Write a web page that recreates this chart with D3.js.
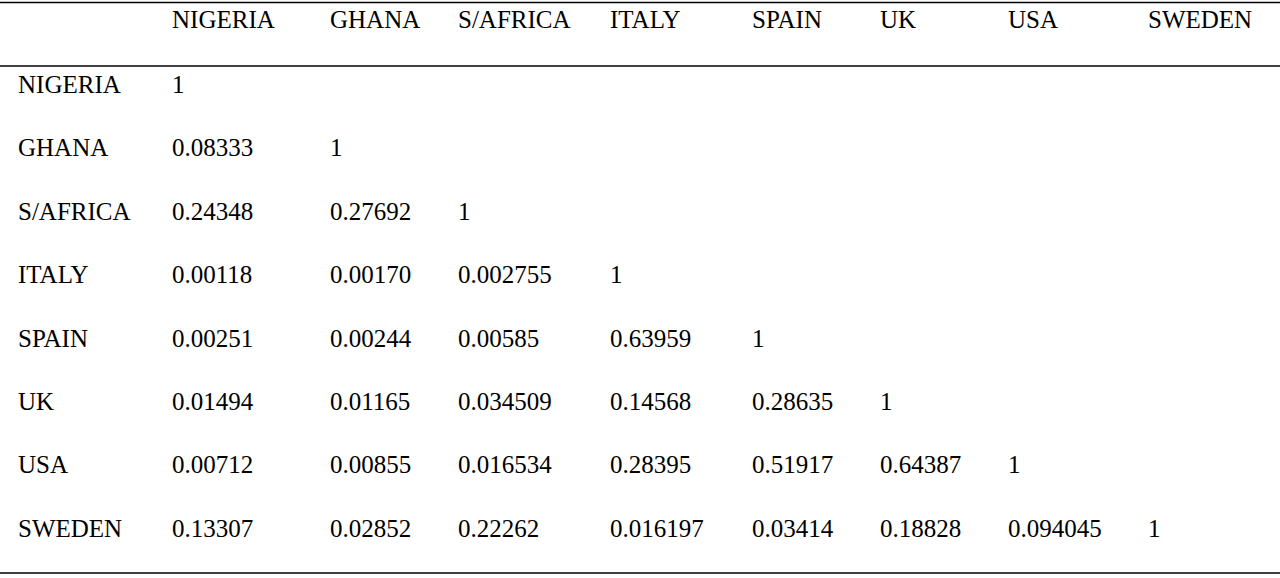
<!DOCTYPE html>
<html><head><meta charset="utf-8">
<script src="https://cdn.jsdelivr.net/npm/d3@7"></script>
<style>body{margin:0;background:#fff}</style>
</head><body><div id="chart"></div>
<script>
const countries = ["NIGERIA","GHANA","S/AFRICA","ITALY","SPAIN","UK","USA","SWEDEN"];
const nigeria = ["1"];
const ghana = ["0.08333","1"];
const safrica = ["0.24348","0.27692","1"];
const italy = ["0.00118","0.00170","0.002755","1"];
const spain = ["0.00251","0.00244","0.00585","0.63959","1"];
const uk = ["0.01494","0.01165","0.034509","0.14568","0.28635","1"];
const usa = ["0.00712","0.00855","0.016534","0.28395","0.51917","0.64387","1"];
const sweden = ["0.13307","0.02852","0.22262","0.016197","0.03414","0.18828","0.094045","1"];
const rows = [nigeria, ghana, safrica, italy, spain, uk, usa, sweden];

const width = 1280, height = 578;
const colX = [18, 172, 330, 458, 610, 752, 880, 1008, 1148];

const svg = d3.select("#chart").append("svg")
    .attr("width", width).attr("height", height)
    .style("font-family", "'Liberation Serif', 'Times New Roman', serif")
    .style("font-size", "25px");

const y = d3.scaleBand().domain(d3.range(rows.length)).range([66, 573]);

// rules
[2.5, 66, 573].forEach(v => svg.append("line")
    .attr("x1", 0).attr("x2", width).attr("y1", v).attr("y2", v)
    .attr("stroke", "#000").attr("stroke-width", 1.5));

// header
svg.selectAll(".hdr").data(countries).enter().append("text")
    .attr("x", (d, i) => colX[i + 1]).attr("y", 28).text(d => d);

// body
rows.forEach((r, i) => {
  const base = y(i) + 27;
  svg.append("text").attr("x", colX[0]).attr("y", base).text(countries[i]);
  svg.selectAll(null).data(r).enter().append("text")
      .attr("x", (d, j) => colX[j + 1]).attr("y", base).text(d => d);
});
</script></body></html>
